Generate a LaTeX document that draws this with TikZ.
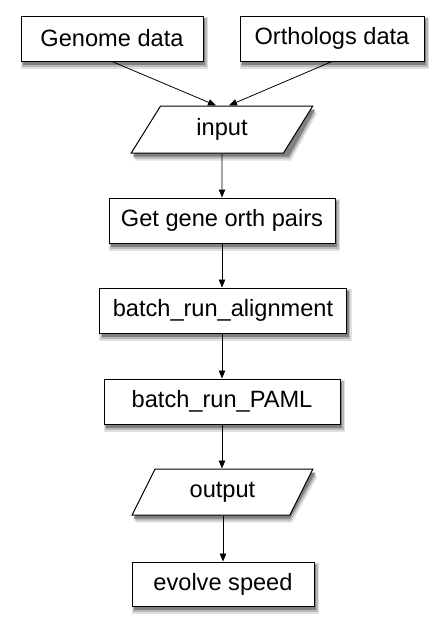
\documentclass[tikz,border=0pt]{standalone}
\usepackage{fontspec}
\setmainfont{Liberation Sans}
\usetikzlibrary{shapes.geometric,arrows.meta}
\tikzset{
  box/.style={draw,line width=1pt,fill=white,rectangle,minimum height=45pt,inner sep=0pt,
    font=\fontsize{23.6}{28}\selectfont},
  io/.style={draw,line width=1pt,fill=white,trapezium,trapezium left angle=61,trapezium right angle=119,
    trapezium stretches=true,minimum width=182pt,minimum height=47pt,inner sep=0pt,
    font=\fontsize{23.6}{28}\selectfont},
  conn/.style={line width=0.8pt,-{Triangle[length=8pt,width=6.5pt]}},
  shadowA/.style={fill=black!12},
  shadowB/.style={fill=black!28},
  shadowC/.style={fill=black!50}
}
\begin{document}
\begin{tikzpicture}[x=1pt,y=-1pt]
\useasboundingbox (0,0) rectangle (444,629);
% shadows (drawn first, under the nodes)
\fill[shadowA] (20.5,17) rectangle (208,69);
\fill[shadowB] (22,18) rectangle (206.5,67);
\fill[shadowC] (23,19) rectangle (205,64.5);
\fill[shadowA] (239.5,17) rectangle (429,69);
\fill[shadowB] (241,18) rectangle (427.5,67);
\fill[shadowC] (242,19) rectangle (426,64.5);
\fill[shadowA] (108.5,199) rectangle (340,251);
\fill[shadowB] (110,200) rectangle (338.5,249);
\fill[shadowC] (111,201) rectangle (337,246.5);
\fill[shadowA] (99,289) rectangle (351.5,341);
\fill[shadowB] (100.5,290) rectangle (350,339);
\fill[shadowC] (101.5,291) rectangle (348.5,336.5);
\fill[shadowA] (103.5,380) rectangle (345,432);
\fill[shadowB] (105,381) rectangle (343.5,430);
\fill[shadowC] (106,382) rectangle (342,427.5);
\fill[shadowA] (131.5,563) rectangle (319,614);
\fill[shadowB] (133,564) rectangle (317.5,612);
\fill[shadowC] (134,565) rectangle (316,609.5);
\fill[shadowA] (135,160.5) -- (291,160.5) -- (317,113.5) -- (161,113.5) -- cycle;
\fill[shadowB] (134,158.5) -- (290,158.5) -- (316,111.5) -- (160,111.5) -- cycle;
\fill[shadowC] (133,156.5) -- (289,156.5) -- (315,109.5) -- (159,109.5) -- cycle;
\fill[shadowA] (135.5,522.5) -- (292,522.5) -- (317.5,476.5) -- (161,476.5) -- cycle;
\fill[shadowB] (134.5,520.5) -- (291,520.5) -- (316.5,474.5) -- (160,474.5) -- cycle;
\fill[shadowC] (133.5,518.5) -- (290,518.5) -- (315.5,472.5) -- (159,472.5) -- cycle;
% nodes
\node[box,minimum width=182pt] (genome) at (112,38.5) {Genome data};
\node[box,minimum width=184pt] (orth) at (332,38.5) {Orthologs data};
\node[io] (input) at (222,129.5) {input};
\node[box,minimum width=226pt] (pairs) at (222,220.5) {Get gene orth pairs};
\node[box,minimum width=247pt] (align) at (223,310.5) {batch\_run\_alignment};
\node[box,minimum width=236pt] (paml) at (222,401.5) {batch\_run\_PAML};
\node[io,minimum height=46pt] (output) at (222.5,492) {output};
\node[box,minimum width=182pt,minimum height=44pt] (speed) at (223,584) {evolve speed};
% connectors
\draw[conn] (genome.south) -- ([xshift=-6pt]input.north);
\draw[conn] (orth.south) -- ([xshift=7pt]input.north);
\draw[conn] (input.south) -- (pairs.north);
\draw[conn] (pairs.south) -- (pairs.south |- align.north);
\draw[conn] (align.south -| paml.north) -- (paml.north);
\draw[conn] (paml.south) -- (paml.south |- output.north);
\draw[conn] (output.south -| speed.north) -- (speed.north);
\end{tikzpicture}
\end{document}
